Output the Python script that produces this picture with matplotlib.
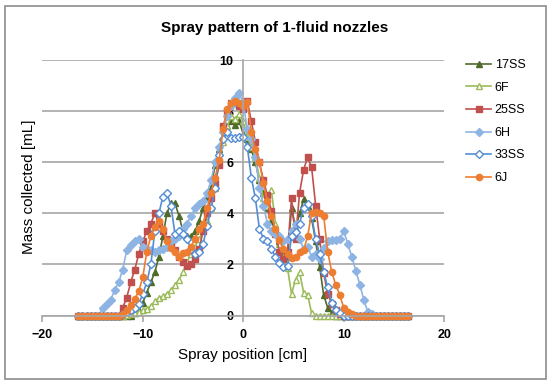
# Spray pattern of 1-fluid nozzles
import matplotlib
matplotlib.use('Agg')
import matplotlib.pyplot as plt
from matplotlib.patches import Rectangle

plt.rcParams['font.family'] = ['Liberation Sans', 'DejaVu Sans']

# Spray position [cm]
position = [-16.4, -16.0, -15.6, -15.2, -14.8, -14.4, -14.0, -13.6, -13.2, -12.8, -12.4,
            -12.0, -11.6, -11.2, -10.8, -10.4, -10.0, -9.6, -9.2, -8.8, -8.4,
            -8.0, -7.6, -7.2, -6.8, -6.4, -6.0, -5.6, -5.2, -4.8, -4.4,
            -4.0, -3.6, -3.2, -2.8, -2.4, -2.0, -1.6, -1.2, -0.8, -0.4,
            0.0, 0.4, 0.8, 1.2, 1.6, 2.0, 2.4, 2.8, 3.2, 3.6,
            4.0, 4.4, 4.8, 5.2, 5.6, 6.0, 6.4, 6.8, 7.2, 7.6,
            8.0, 8.4, 8.8, 9.2, 9.6, 10.0, 10.4, 10.8, 11.2, 11.6,
            12.0, 12.4, 12.8, 13.2, 13.6, 14.0, 14.4, 14.8, 15.2, 15.6,
            16.0, 16.4]

# Mass collected [mL] for each nozzle
mass_17SS = [0, 0, 0, 0, 0, 0, 0, 0, 0, 0, 0,
             0, 0, 0, 0.1, 0.2, 0.5, 0.9, 1.3, 1.7, 2.3,
             3.1, 4.0, 4.4, 4.4, 3.9, 3.3, 3.1, 3.1, 3.3, 3.7,
             4.2, 4.6, 5.0, 5.9, 6.5, 7.0, 7.4, 7.6, 7.45, 7.6,
             7.1, 6.9, 6.5, 6.0, 5.3, 4.8, 4.2, 3.7, 3.3, 2.9,
             2.5, 2.3, 4.2, 3.4, 4.0, 4.55, 4.3, 3.8, 2.9, 1.9,
             0.8, 0.3, 0.1, 0, 0, 0, 0, 0, 0, 0,
             0, 0, 0, 0, 0, 0, 0, 0, 0, 0,
             0, 0]

mass_6F = [0, 0, 0, 0, 0, 0, 0, 0, 0, 0, 0,
           0, 0.03, 0.07, 0.1, 0.13, 0.2, 0.27, 0.38, 0.55, 0.7,
           0.75, 0.85, 1.0, 1.2, 1.4, 1.7, 2.1, 2.4, 2.7, 3.0,
           3.3, 3.7, 4.2, 5.0, 6.0, 6.8, 7.4, 7.8, 7.7, 7.9,
           7.6, 7.0, 6.6, 6.2, 5.4, 4.6, 4.3, 4.9, 3.6, 2.8,
           2.3, 1.85, 0.85, 1.4, 1.7, 0.9, 0.82, 0.08, 0, 0,
           0, 0, 0, 0, 0, 0, 0, 0, 0, 0,
           0, 0, 0, 0, 0, 0, 0, 0, 0, 0,
           0, 0]

mass_25SS = [0, 0, 0, 0, 0, 0, 0, 0, 0, 0, 0,
             0.3, 0.7, 1.3, 1.8, 2.4, 2.9, 3.3, 3.6, 4.0, 3.6,
             3.3, 3.0, 2.75, 2.55, 2.3, 2.1, 1.95, 2.0, 2.2, 2.6,
             3.3, 4.0, 4.6, 5.2, 5.9, 7.4, 8.0, 8.3, 8.3, 8.2,
             8.1, 8.4, 7.6, 6.8, 6.0, 5.3, 4.7, 4.1, 3.2, 2.5,
             2.2, 2.5, 4.6, 3.0, 4.8, 5.7, 6.2, 5.8, 4.3, 3.0,
             1.65, 0.85, 0.45, 0.2, 0.07, 0, 0, 0, 0, 0,
             0, 0, 0, 0, 0, 0, 0, 0, 0, 0,
             0, 0]

mass_6H = [0, 0, 0, 0, 0, 0, 0.3, 0.45, 0.6, 1.0, 1.3,
           1.8, 2.55, 2.75, 2.9, 3.0, 2.7, 2.6, 2.55, 2.5, 2.55,
           2.6, 2.7, 2.9, 3.0, 3.1, 3.4, 3.6, 3.9, 4.2, 4.35,
           4.5, 4.8, 5.3, 6.0, 6.6, 7.2, 7.8, 8.2, 8.5, 8.7,
           8.3, 7.3, 6.9, 6.2, 5.0, 4.3, 3.6, 3.3, 3.2, 3.1,
           2.9, 3.0, 3.3, 3.6, 3.0, 2.6, 2.7, 2.3, 2.4, 2.2,
           2.65, 2.9, 2.95, 2.95, 3.0, 3.3, 2.8, 2.3, 1.75, 1.2,
           0.6, 0.13, 0.07, 0, 0, 0, 0, 0, 0, 0,
           0, 0]

mass_33SS = [0, 0, 0, 0, 0, 0, 0, 0, 0, 0, 0,
             0.05, 0.15, 0.22, 0.3, 0.45, 0.85, 1.3, 2.0, 3.3, 4.0,
             4.65, 4.8, 4.3, 3.2, 3.3, 3.2, 3.0, 2.6, 2.4, 2.5,
             2.8, 3.5, 4.2, 5.0, 6.3, 6.9, 7.2, 6.95, 6.95, 7.0,
             7.0, 6.6, 5.4, 4.6, 3.4, 3.0, 2.9, 2.6, 2.3, 2.05,
             1.9, 1.95, 3.1, 3.25, 3.6, 4.2, 4.35, 3.9, 3.0, 2.4,
             1.7, 1.1, 0.5, 0.2, 0.08, 0, 0, 0, 0, 0,
             0, 0, 0, 0, 0, 0, 0, 0, 0, 0,
             0, 0]

mass_6J = [0, 0, 0, 0, 0, 0, 0, 0, 0, 0, 0,
           0.05, 0.2, 0.4, 0.65, 0.95, 1.5, 2.5, 3.1, 3.45, 3.7,
           3.4, 2.9, 2.65, 2.5, 2.3, 2.45, 2.5, 2.7, 3.0, 3.4,
           3.6, 4.2, 4.8, 5.4, 6.1, 7.3, 8.1, 8.3, 8.4, 8.3,
           8.2, 8.35, 7.2, 6.5, 6.0, 5.2, 4.5, 3.9, 3.4, 2.95,
           2.6, 2.4, 2.25, 2.3, 2.48, 2.55, 3.1, 4.0, 4.05, 4.0,
           3.9, 2.5, 1.7, 1.2, 0.8, 0.3, 0.15, 0.05, 0, 0,
           0, 0, 0, 0, 0, 0, 0, 0, 0, 0,
           0, 0]

names = ['17SS', '6F', '25SS', '6H', '33SS', '6J']
series = [mass_17SS, mass_6F, mass_25SS, mass_6H, mass_33SS, mass_6J]
colors = ['#4F6B2A', '#9BBB59', '#C0504D', '#8EB4E3', '#558ED5', '#ED7D31']
markers = ['^', '^', 's', 'D', 'D', 'o']
hollow = [False, True, False, False, True, False]

fig = plt.figure(figsize=(5.5, 3.83), dpi=100)
ax = fig.add_axes([0.0769, 0.1762, 0.7309, 0.667])

# Plot every nozzle
for name, y, c, m, h in zip(names, series, colors, markers, hollow):
    ax.plot(position, y, color=c, marker=m, markersize=4.5 if m != 'D' else 4,
            linewidth=1.2, markerfacecolor='white' if h else c,
            markeredgecolor=c, markeredgewidth=1, clip_on=False, label=name)

ax.set_xlim(-20, 20)
ax.set_ylim(0, 10)
ax.set_xticks([-20, -10, 0, 10, 20])
ax.set_yticks([0, 2, 4, 6, 8, 10])

# Excel-like axes: y axis crossing at x = 0
grey = '#A6A6A6'
ax.spines['left'].set_position('zero')
ax.spines['top'].set_visible(False)
ax.spines['right'].set_visible(False)
ax.spines['left'].set_color(grey)
ax.spines['bottom'].set_color(grey)
ax.spines['left'].set_linewidth(1.2)
ax.spines['bottom'].set_linewidth(1.2)
ax.yaxis.grid(True, color=grey, linewidth=1.2)
ax.set_axisbelow(True)
ax.tick_params(axis='x', direction='out', length=4, width=1.2, color=grey, pad=6)
ax.tick_params(axis='y', length=0, pad=7)
for lab in ax.get_xticklabels() + ax.get_yticklabels():
    lab.set_fontweight('bold')
    lab.set_fontsize(9)

# Labels and title
fig.text(275 / 550, 1 - 28 / 383, 'Spray pattern of 1-fluid nozzles',
         ha='center', va='center', fontsize=11, fontweight='bold')
fig.text(243 / 550, 1 - 355 / 383, 'Spray position [cm]',
         ha='center', va='center', fontsize=11)
fig.text(29 / 550, 1 - 187 / 383, 'Mass collected [mL]',
         ha='center', va='center', rotation=90, fontsize=11)

fig.legend(loc='upper left', bbox_to_anchor=(466 / 550, 1 - 59 / 383),
           frameon=False, fontsize=9, handlelength=2.0, handletextpad=0.3,
           labelspacing=0.85, borderaxespad=0, borderpad=0)

# Chart border
fig.add_artist(Rectangle((5 / 550, 4 / 383), 541 / 550, 373 / 383,
                         transform=fig.transFigure, fill=False,
                         edgecolor='#8C8C8C', linewidth=1.2))

fig.savefig('out.png', dpi=100)
